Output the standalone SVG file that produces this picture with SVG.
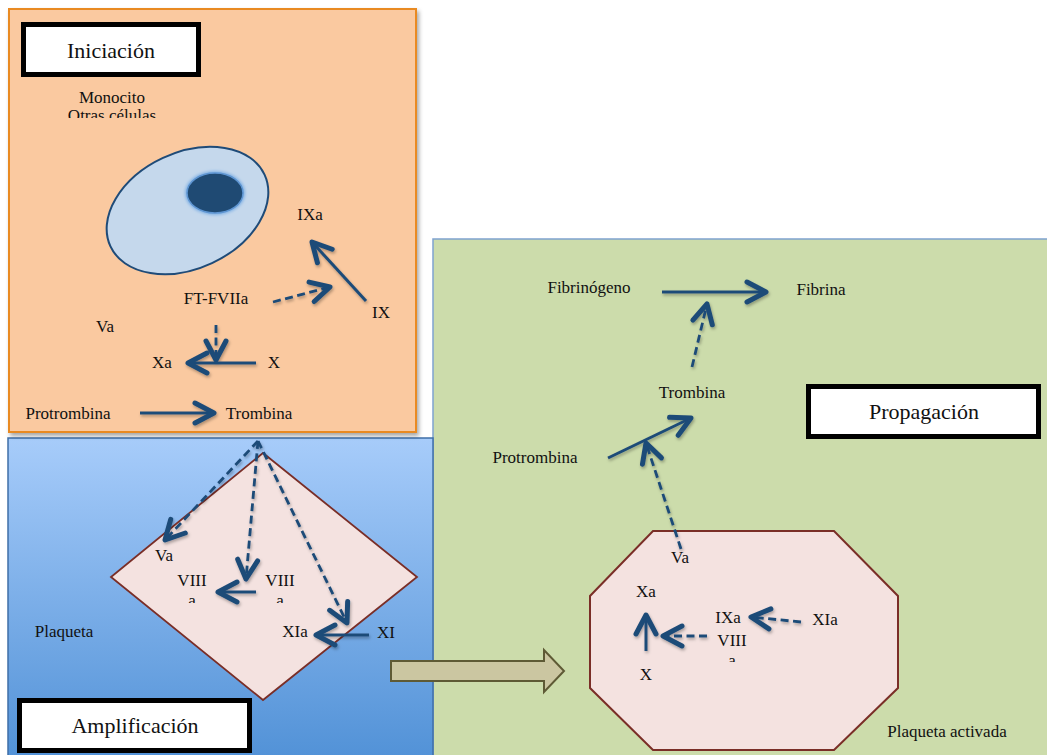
<svg xmlns="http://www.w3.org/2000/svg" width="1047" height="755" viewBox="0 0 1047 755">
<style>
.lbl{font-family:"Liberation Serif","Times New Roman",serif;font-size:17px;fill:#111;text-anchor:middle}
.ttl{font-family:"Liberation Serif","Times New Roman",serif;font-size:22px;fill:#111;text-anchor:middle}
.tbox{fill:#fff;stroke:#000;stroke-width:5}
.sol{stroke:#1F4B78;stroke-width:3;fill:none;marker-end:url(#chev)}
.dsh{stroke:#1F4B78;stroke-width:2.8;fill:none;stroke-dasharray:8 4.5;marker-end:url(#chev)}
</style>
<defs>
<marker id="chev" markerUnits="userSpaceOnUse" markerWidth="30" markerHeight="30" refX="0" refY="0" orient="auto" overflow="visible">
<path d="M-19,-10 L0,0 L-19,10" fill="none" stroke="#1F4B78" stroke-width="5" stroke-linecap="round" stroke-linejoin="round"/>
</marker>
<linearGradient id="blueg" x1="0" y1="0" x2="0" y2="1">
<stop offset="0" stop-color="#A7CCFA"/>
<stop offset="1" stop-color="#4F90D6"/>
</linearGradient>
<filter id="shd" x="-10%" y="-10%" width="130%" height="130%">
<feDropShadow dx="2" dy="3" stdDeviation="2" flood-color="#000" flood-opacity="0.35"/>
</filter>
<filter id="ashd" x="-30%" y="-30%" width="160%" height="160%">
<feDropShadow dx="1" dy="2" stdDeviation="1.5" flood-color="#000" flood-opacity="0.3"/>
</filter>
<filter id="glow" x="-30%" y="-30%" width="160%" height="160%">
<feGaussianBlur stdDeviation="1.5"/>
</filter>
<clipPath id="c1"><rect x="40" y="80" width="150" height="38"/></clipPath>
<clipPath id="c2"><rect x="150" y="565" width="160" height="38"/></clipPath>
<clipPath id="c3"><rect x="700" y="625" width="70" height="37"/></clipPath>
</defs>

<!-- panels -->
<g id="panel-propagacion">
<rect x="433" y="239" width="630" height="530" fill="#CCDCAB" stroke="#7FA3CF" stroke-width="1.5"/>
</g>
<g id="panel-amplificacion">
<rect x="8" y="438" width="425" height="330" fill="url(#blueg)" stroke="#3F6FA8" stroke-width="1.5"/>
</g>
<g id="panel-iniciacion">
<rect x="9" y="9" width="407" height="423" fill="#FAC9A0" stroke="#E98A22" stroke-width="2" filter="url(#shd)"/>
</g>

<!-- shapes -->
<g id="cell">
<ellipse cx="187.5" cy="210.5" rx="85" ry="58" transform="rotate(-25 187.5 210.5)" fill="#C5D8EC" stroke="#1F4B78" stroke-width="2"/>
<ellipse cx="215" cy="193" rx="30" ry="22" fill="#7FB0E4" filter="url(#glow)"/>
<ellipse cx="215" cy="193" rx="28" ry="20" fill="#1F4A73" stroke="#5E95D2" stroke-width="1.5"/>
</g>
<g id="plaqueta">
<polygon points="263,453 417,577 263,700 111,577" fill="#F4E2E0" stroke="#7A2E27" stroke-width="1.8"/>
</g>
<g id="plaqueta-activada">
<polygon points="653,531 834,531 898,596 898,688 834,750 653,750 590,688 590,596" fill="#F4E2E0" stroke="#7A2E27" stroke-width="2"/>
</g>
<g id="block-arrow">
<polygon points="391,661 544,661 544,650 564,671 544,692 544,681 391,681" fill="#CBC6A1" stroke="#5E5A35" stroke-width="2" stroke-linejoin="miter"/>
</g>

<!-- title boxes -->
<g id="title-iniciacion">
<rect class="tbox" x="23.5" y="24.5" width="175" height="50"/>
<text class="ttl" x="111" y="58">Iniciación</text>
</g>
<g id="title-propagacion">
<rect class="tbox" x="808.5" y="386.5" width="230" height="50"/>
<text class="ttl" x="924" y="419">Propagación</text>
</g>
<g id="title-amplificacion">
<rect class="tbox" x="19.5" y="700.5" width="230" height="50"/>
<text class="ttl" x="135" y="733">Amplificación</text>
</g>

<!-- connectors -->
<g id="connectors" filter="url(#ashd)">
<line class="dsh" x1="273" y1="302" x2="330" y2="287"/>
<line class="sol" x1="366" y1="301" x2="312" y2="242"/>
<line class="dsh" x1="216" y1="325" x2="216" y2="360"/>
<line class="sol" x1="256" y1="363" x2="188" y2="363"/>
<line class="sol" x1="140" y1="413" x2="214" y2="413"/>
<line class="dsh" x1="258" y1="441" x2="165" y2="540"/>
<line class="dsh" x1="258" y1="441" x2="246" y2="579"/>
<line class="dsh" x1="258" y1="441" x2="347" y2="623"/>
<line class="sol" x1="256" y1="592" x2="218" y2="592"/>
<line class="sol" x1="369" y1="635" x2="316" y2="635"/>
<line class="sol" x1="662" y1="292" x2="766" y2="292"/>
<line class="dsh" x1="692" y1="367" x2="707" y2="304"/>
<line class="sol" x1="608" y1="458" x2="691" y2="418"/>
<line class="dsh" x1="681" y1="549" x2="646" y2="443"/>
<line class="sol" x1="646" y1="651" x2="646" y2="615"/>
<line class="dsh" x1="707" y1="636" x2="663" y2="636"/>
<line class="dsh" x1="801" y1="622" x2="751" y2="617"/>
</g>

<!-- labels -->
<g id="n-monocito">
<text class="lbl" x="112" y="103">Monocito</text>
<text class="lbl" x="112" y="121" clip-path="url(#c1)">Otras células</text>
</g>
<g id="n-ixa"><text class="lbl" x="310" y="220">IXa</text></g>
<g id="n-ftfviia"><text class="lbl" x="216" y="304">FT-FVIIa</text></g>
<g id="n-ix"><text class="lbl" x="381" y="318">IX</text></g>
<g id="n-va1"><text class="lbl" x="105" y="332">Va</text></g>
<g id="n-xa1"><text class="lbl" x="162" y="368">Xa</text></g>
<g id="n-x1"><text class="lbl" x="274" y="368">X</text></g>
<g id="n-protrombina1"><text class="lbl" x="68" y="419">Protrombina</text></g>
<g id="n-trombina1"><text class="lbl" x="259" y="419">Trombina</text></g>

<g id="n-va2"><text class="lbl" x="164" y="561">Va</text></g>
<g id="n-viiia2" clip-path="url(#c2)">
<text class="lbl" x="192" y="586">VIII</text>
<text class="lbl" x="192" y="606">a</text>
</g>
<g id="n-viii2" clip-path="url(#c2)">
<text class="lbl" x="280" y="586">VIII</text>
<text class="lbl" x="280" y="606">a</text>
</g>
<g id="n-xia2"><text class="lbl" x="295" y="637">XIa</text></g>
<g id="n-xi2"><text class="lbl" x="386" y="638">XI</text></g>
<g id="n-plaqueta"><text class="lbl" x="64" y="637">Plaqueta</text></g>

<g id="n-fibrinogeno"><text class="lbl" x="589" y="293">Fibrinógeno</text></g>
<g id="n-fibrina"><text class="lbl" x="821" y="295">Fibrina</text></g>
<g id="n-trombina3"><text class="lbl" x="692" y="398">Trombina</text></g>
<g id="n-protrombina3"><text class="lbl" x="535" y="463">Protrombina</text></g>
<g id="n-va3"><text class="lbl" x="680" y="563">Va</text></g>
<g id="n-xa3"><text class="lbl" x="646" y="597">Xa</text></g>
<g id="n-ixa3"><text class="lbl" x="728" y="623">IXa</text></g>
<g id="n-xia3"><text class="lbl" x="825" y="625">XIa</text></g>
<g id="n-viiia3" clip-path="url(#c3)">
<text class="lbl" x="732" y="646">VIII</text>
<text class="lbl" x="732" y="666">a</text>
</g>
<g id="n-x3"><text class="lbl" x="646" y="680">X</text></g>
<g id="n-plaqueta-activada"><text class="lbl" x="947" y="737">Plaqueta activada</text></g>
</svg>
